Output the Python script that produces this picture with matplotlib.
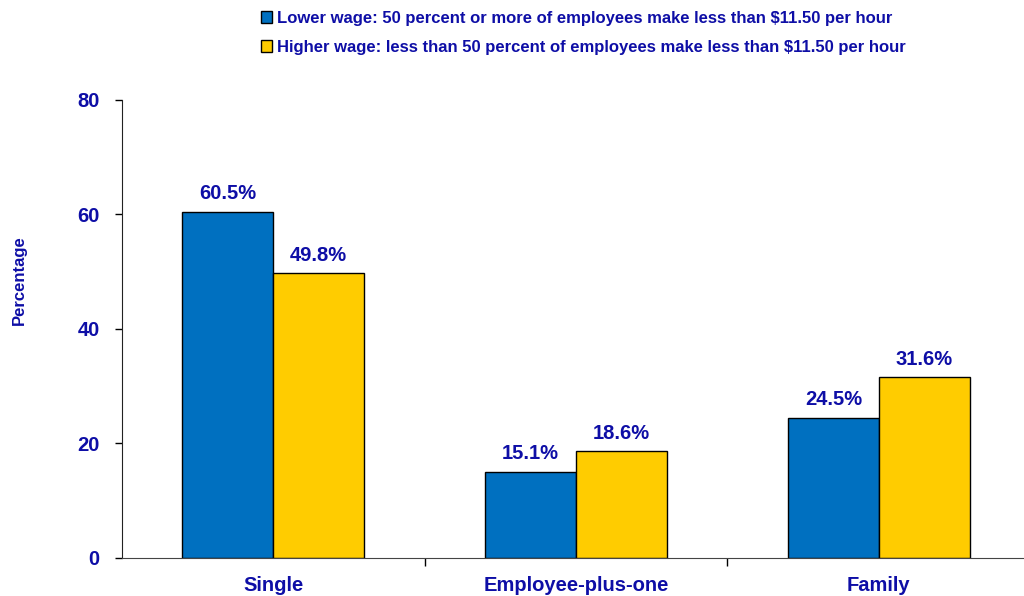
import matplotlib.pyplot as plt
import numpy as np
from matplotlib.patches import Patch

plt.rcParams['font.family'] = ['Liberation Sans', 'DejaVu Sans']
plt.rcParams['font.weight'] = 'bold'

categories = ['Single', 'Employee-plus-one', 'Family']
lower_wage = [60.5, 15.1, 24.5]
higher_wage = [49.8, 18.6, 31.6]
series_names = [
    'Lower wage: 50 percent or more of employees make less than $11.50 per hour',
    'Higher wage: less than 50 percent of employees make less than $11.50 per hour',
]
y_ticks = [0, 20, 40, 60, 80]

text_color = '#0e0ea6'
blue = '#0070c0'
yellow = '#ffcc00'

fig = plt.figure(figsize=(10.24, 5.96), dpi=100)
ax = fig.add_axes([0.119, 0.0638, 0.887, 0.7685])

x = np.arange(len(categories))
w = 0.30
b1 = ax.bar(x - w / 2, lower_wage, w, color=blue, edgecolor='black', linewidth=1)
b2 = ax.bar(x + w / 2, higher_wage, w, color=yellow, edgecolor='black', linewidth=1)

# value labels above each bar
for bars, vals in ((b1, lower_wage), (b2, higher_wage)):
    for bar, v in zip(bars, vals):
        ax.annotate(f'{v}%', (bar.get_x() + bar.get_width() / 2, v),
                    xytext=(0, 6), textcoords='offset points',
                    ha='center', va='bottom', fontsize=14.5,
                    fontweight='bold', color=text_color)

ax.set_xlim(-0.5, 2.5)
ax.set_ylim(0, 80)
ax.set_yticks(y_ticks)
ax.set_yticklabels([str(t) for t in y_ticks], fontsize=14.5,
                   fontweight='bold', color=text_color)

# category names sit between the boundary tick marks
ax.set_xticks([0.5, 1.5, 2.5])
ax.set_xticklabels([])
ax.set_xticks(x, minor=True)
ax.set_xticklabels(categories, minor=True, fontsize=14.5,
                   fontweight='bold', color=text_color)
ax.tick_params(axis='x', which='minor', length=0, pad=13)
ax.tick_params(axis='x', which='major', length=6, direction='out', width=1)
ax.tick_params(axis='y', length=5, direction='out', width=1, pad=11)

for side in ('top', 'right'):
    ax.spines[side].set_visible(False)
ax.spines['left'].set_color('#222222')
ax.spines['bottom'].set_color('#444444')

ax.set_ylabel('Percentage', fontsize=12, fontweight='bold', color=text_color)
ax.yaxis.set_label_coords(-0.105, 0.607)

handles = [Patch(facecolor=blue, edgecolor='black'),
           Patch(facecolor=yellow, edgecolor='black')]
leg = fig.legend(handles, series_names, loc='upper left',
                 bbox_to_anchor=(0.24, 1.007), frameon=False,
                 handlelength=0.7, handleheight=0.7, handletextpad=0.25,
                 labelspacing=0.85, prop={'size': 12, 'weight': 'bold'})
for t in leg.get_texts():
    t.set_color(text_color)

fig.savefig('out.png', dpi=100)
